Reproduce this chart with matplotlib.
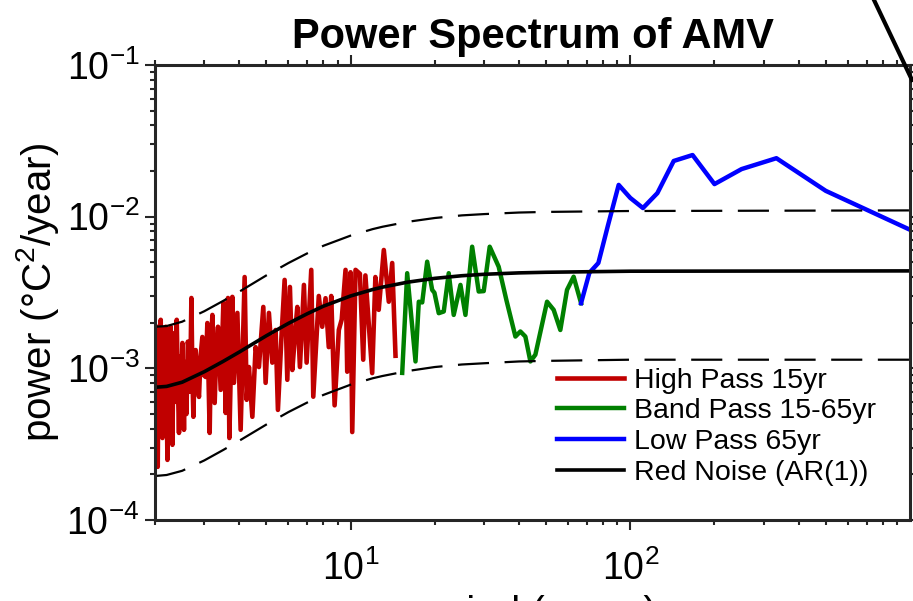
import numpy as np
import matplotlib
matplotlib.use('Agg')
import matplotlib.pyplot as plt
from matplotlib.lines import Line2D
from matplotlib.ticker import LogLocator, NullFormatter

plt.rcParams['font.family'] = ['Liberation Sans', 'DejaVu Sans']
plt.rcParams['mathtext.fontset'] = 'custom'
plt.rcParams['mathtext.rm'] = 'Liberation Sans'
plt.rcParams['mathtext.it'] = 'Liberation Sans:italic'
plt.rcParams['mathtext.bf'] = 'Liberation Sans:bold'

# high pass (< 15 yr)
red_period = [2.005, 2.02, 2.035, 2.045, 2.06, 2.075, 2.096, 2.11, 2.126, 2.14,
              2.16, 2.185, 2.2, 2.215, 2.235, 2.255, 2.276, 2.29, 2.308, 2.33,
              2.35, 2.37, 2.391, 2.41, 2.436, 2.46, 2.48, 2.505, 2.52, 2.538,
              2.56, 2.59, 2.62, 2.645, 2.67, 2.698, 2.72, 2.743, 2.77, 2.795,
              2.83, 2.872, 2.91, 2.953, 2.99, 3.034, 3.077, 3.136, 3.17, 3.207,
              3.268, 3.31, 3.358, 3.434, 3.511, 3.578, 3.646, 3.688, 3.78, 3.83,
              3.939, 4.047, 4.182, 4.252, 4.333, 4.456, 4.578, 4.704, 4.877, 4.97,
              5.107, 5.252, 5.396, 5.5, 5.656, 5.812, 5.942, 6.071, 6.192, 6.363,
              6.452, 6.592, 6.813, 6.966, 7.237, 7.358, 7.7, 7.92, 8.14, 8.36,
              8.53, 8.77, 9.08, 9.3, 9.597, 9.73, 10.0, 10.14, 10.42, 10.8,
              11.1, 11.3, 11.95, 12.27, 12.61, 13.15, 13.7, 14.09, 14.48]
red_power = [0.0017, 0.00028, 0.00188, 0.000224, 0.0015, 0.0005, 0.00209, 0.0006, 0.000347, 0.0016,
             0.00045, 0.00188, 0.0007, 0.000249, 0.0015, 0.0005, 0.00188, 0.0008, 0.000313, 0.0017,
             0.0006, 0.0014, 0.00209, 0.0009, 0.000375, 0.0012, 0.0006, 0.00147, 0.0008, 0.000393,
             0.0011, 0.0005, 0.0015, 0.00132, 0.0007, 0.00291, 0.0009, 0.000479, 0.0011, 0.00132,
             0.0008, 0.000648, 0.0012, 0.00161, 0.0009, 0.000877, 0.00199, 0.000375, 0.0014, 0.00225,
             0.000591, 0.0013, 0.00188, 0.000721, 0.0027, 0.000508, 0.00291, 0.000347, 0.00296, 0.000802,
             0.00232, 0.000393, 0.0040, 0.00062, 0.00102, 0.000479, 0.00138, 0.00102, 0.00254, 0.000802,
             0.00232, 0.00109, 0.00179, 0.000532, 0.00154, 0.00383, 0.00084, 0.00344, 0.000975, 0.00188,
             0.00254, 0.00102, 0.00355, 0.00109, 0.00446, 0.00065, 0.0030, 0.00188, 0.0029, 0.00138,
             0.0030, 0.00057, 0.00179, 0.0021, 0.00446, 0.00095, 0.0043, 0.00038, 0.00446, 0.0042,
             0.00114, 0.0041, 0.00093, 0.0040, 0.00243, 0.00603, 0.00275, 0.00495, 0.00121]

# band pass (15-65 yr)
green_period = [15.30, 15.94, 17.07, 17.54, 18.04, 18.79, 19.58, 19.95, 20.67, 21.54,
                22.44, 23.38, 24.71, 25.75, 27.21, 28.72, 29.93, 31.44, 33.85, 36.07,
                38.85, 40.47, 42.17, 43.95, 45.79, 50.41, 53.23, 56.23, 59.41, 62.74, 66.7]
green_power = [0.000933, 0.00424, 0.00111, 0.00275, 0.00272, 0.00505, 0.00329, 0.00315, 0.00231, 0.00237,
               0.00424, 0.00225, 0.00355, 0.00225, 0.00634, 0.00321, 0.00323, 0.00634, 0.00468, 0.00282,
               0.00162, 0.00175, 0.00162, 0.00111, 0.00123, 0.00275, 0.00243, 0.00179, 0.00329, 0.00402, 0.00269]

# low pass (> 65 yr)
blue_period = [66.7, 71.4, 76.9, 83.3, 90.9, 100, 111, 125, 143, 167, 200, 250, 333, 500, 1000]
blue_power = [0.00269, 0.00426, 0.00495, 0.00881, 0.0162, 0.0133, 0.0114, 0.0143, 0.0233, 0.0255,
              0.0164, 0.0206, 0.0243, 0.0148, 0.0082]

# red noise AR(1) and its bounds
ar1_period = [2, 2.2, 2.5, 3, 3.5, 4, 5, 6, 7, 8, 10, 12, 13, 16, 20, 25, 30, 40, 50, 100, 1000]
ar1_power = [0.00075, 0.00076, 0.00081, 0.00095, 0.00111, 0.00128, 0.00164, 0.00198, 0.00229, 0.00257,
             0.0030, 0.00331, 0.00343, 0.0037, 0.00392, 0.00408, 0.00417, 0.00426, 0.0043, 0.00437, 0.00439]
ar1_upper = [0.00188, 0.0019, 0.00203, 0.00238, 0.00278, 0.0032, 0.0041, 0.00495, 0.00573, 0.00643,
             0.0075, 0.00828, 0.00858, 0.00925, 0.0098, 0.0102, 0.0104, 0.01065, 0.01075, 0.0109, 0.011]
ar1_lower = [0.000195, 0.000198, 0.000211, 0.000247, 0.000289, 0.000333, 0.000426, 0.000515, 0.000595, 0.000668,
             0.00078, 0.00086, 0.00089, 0.00096, 0.00102, 0.00106, 0.00108, 0.00111, 0.00112, 0.00114, 0.00114]

axcol = '#262626'

fig = plt.figure(figsize=(9.13, 6.01), dpi=100)
ax = fig.add_axes([0.1698, 0.1348, 0.8269, 0.757])

l1, = ax.plot(red_period, red_power, color='#C00000', lw=3.3, label='High Pass 15yr')
l2, = ax.plot(green_period, green_power, color='#008000', lw=3.2, label='Band Pass 15-65yr')
l3, = ax.plot(blue_period, blue_power, color='#0000FF', lw=3.2, label='Low Pass 65yr')
ax.plot(ar1_period, ar1_upper, color='k', lw=1.6, dashes=(14, 7))
ax.plot(ar1_period, ar1_lower, color='k', lw=1.6, dashes=(14, 7))
l4, = ax.plot(ar1_period, ar1_power, color='k', lw=2.6, label='Red Noise (AR(1))')

ax.set_xscale('log')
ax.set_yscale('log')
ax.set_xlim(2, 1000)
ax.set_ylim(1e-4, 1e-1)
ax.set_xticks([10, 100])
ax.xaxis.set_minor_locator(LogLocator(base=10, subs=np.arange(2, 10), numticks=20))
ax.xaxis.set_minor_formatter(NullFormatter())
ax.yaxis.set_minor_locator(LogLocator(base=10, subs=np.arange(2, 10), numticks=20))
ax.yaxis.set_minor_formatter(NullFormatter())

ax.tick_params(which='both', direction='out', top=True, right=True, color=axcol,
               labelcolor='k', labelsize=27, width=1.5)
ax.tick_params(which='major', length=7)
ax.tick_params(which='minor', length=3.6)
ax.tick_params(axis='y', which='major', pad=4)
ax.tick_params(axis='x', which='major', pad=15)
for s in ax.spines.values():
    s.set_linewidth(2.2)
    s.set_color(axcol)

ax.set_title('Power Spectrum of AMV', fontsize=30, fontweight='bold', pad=12)
ax.set_ylabel('power (°C$^2$/year)', fontsize=29)
ax.yaxis.set_label_coords(-0.125, 0.5)
ax.set_xlabel('period (years)', fontsize=29, labelpad=5)

ax.legend(handles=[l1, l2, l3, l4], loc='upper left', bbox_to_anchor=(0.532, 0.335),
          frameon=False, fontsize=20.5, borderpad=0, borderaxespad=0,
          handlelength=2.35, handletextpad=0.35, labelspacing=0.17)

# stray pen stroke at the top right corner of the screenshot
fig.add_artist(Line2D([874 / 913, 912 / 913], [1.0, 1 - 80 / 601],
                      transform=fig.transFigure, color='k', lw=3))

fig.savefig('out.png', dpi=100)
